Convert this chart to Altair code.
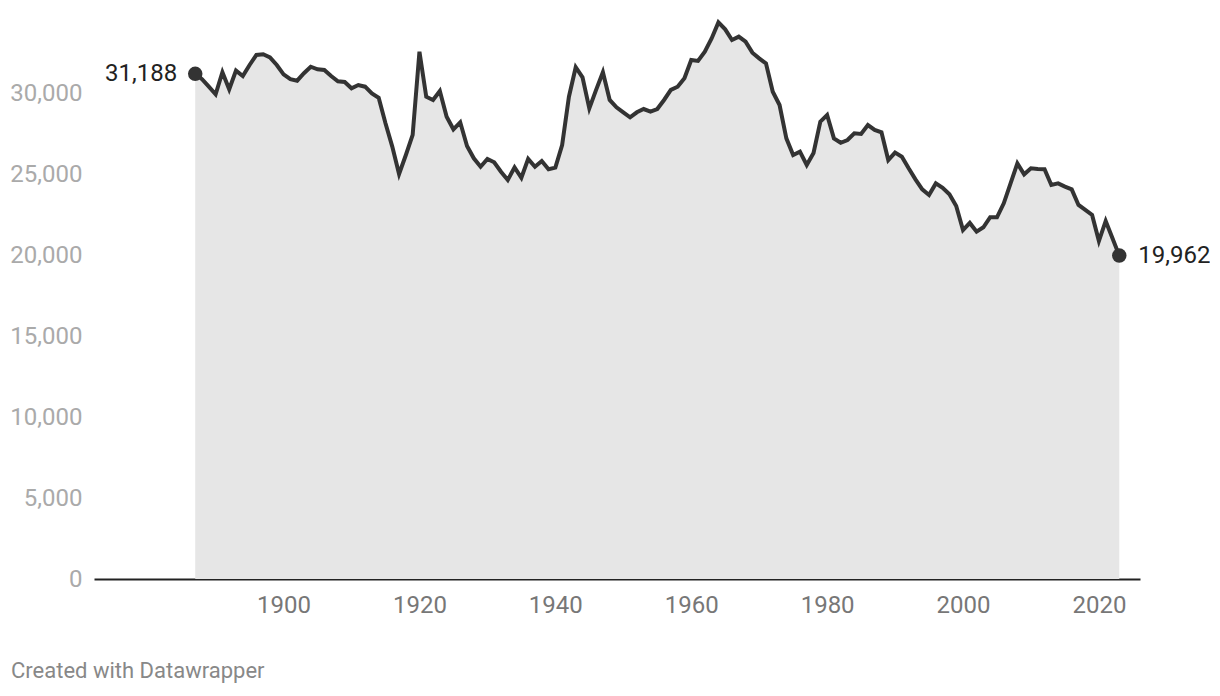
import altair as alt
import pandas as pd

years = list(range(1887, 2024))
values = [
    31188, 30850, 30390, 29920, 31280, 30230, 31380, 31050, 31730, 32350,
    32390, 32200, 31730, 31150, 30850, 30760, 31220, 31620, 31460, 31420,
    31050, 30720, 30680, 30290, 30490, 30390, 29980, 29710, 28130, 26690,
    25000, 26170, 27410, 32550, 29770, 29570, 30120, 28540, 27760, 28190,
    26730, 25970, 25450, 25930, 25720, 25140, 24630, 25410, 24770, 25930,
    25450, 25800, 25290, 25390, 26790, 29770, 31590, 30970, 29050, 30190,
    31280, 29570, 29120, 28810, 28500, 28810, 29010, 28850, 29010, 29570,
    30190, 30390, 30910, 32040, 31980, 32550, 33370, 34360, 33930, 33270,
    33480, 33170, 32490, 32140, 31830, 30080, 29260, 27200, 26170, 26380,
    25560, 26300, 28230, 28640, 27200, 26930, 27100, 27510, 27470, 28020,
    27720, 27570, 25860, 26320, 26070, 25350, 24670, 24050, 23700, 24420,
    24150, 23750, 23020, 21540, 21980, 21440, 21710, 22330, 22330, 23190,
    24420, 25660, 24980, 25350, 25310, 25290, 24320, 24420, 24220, 24050,
    23090, 22780, 22470, 20860, 22100, 21030, 19962,
]
x_ticks = [1900, 1920, 1940, 1960, 1980, 2000, 2020]
y_ticks = [0, 5000, 10000, 15000, 20000, 25000, 30000]

df = pd.DataFrame({"year": years, "value": values})
ends = pd.DataFrame({
    "year": [years[0], years[-1]],
    "value": [values[0], values[-1]],
    "side": ["first", "last"],
})

FONT = "Roboto"

x_scale = alt.Scale(domain=[1872.1, 2026.05], nice=False, zero=False)
y_scale = alt.Scale(domain=[0, 35000], nice=False)

x_enc = alt.X(
    "year:Q", scale=x_scale,
    axis=alt.Axis(
        values=x_ticks, format="d", title=None, ticks=False, grid=False,
        domain=True, domainColor="#222222", domainWidth=2,
        labelColor="#777777", labelFontSize=24, labelFont=FONT,
        labelPadding=14,
    ),
)
y_enc = alt.Y(
    "value:Q", scale=y_scale,
    axis=alt.Axis(
        values=y_ticks, format=",d", title=None, ticks=False, grid=False,
        domain=False, labelColor="#aaaaaa", labelFontSize=24,
        labelFont=FONT, labelPadding=12,
    ),
)

area = alt.Chart(df).mark_area(color="#e6e6e6", opacity=1).encode(x=x_enc, y=y_enc)
line = alt.Chart(df).mark_line(color="#333333", strokeWidth=4, strokeJoin="miter").encode(
    x="year:Q", y="value:Q"
)
dots = alt.Chart(ends).mark_point(filled=True, size=210, color="#333333", opacity=1).encode(
    x="year:Q", y="value:Q"
)
lab_first = alt.Chart(ends).transform_filter(alt.datum.side == "first").mark_text(
    align="right", baseline="middle", dx=-18, fontSize=24, font=FONT, color="#222222"
).encode(x="year:Q", y="value:Q", text=alt.Text("value:Q", format=",d"))
lab_last = alt.Chart(ends).transform_filter(alt.datum.side == "last").mark_text(
    align="left", baseline="middle", dx=19, fontSize=24, font=FONT, color="#222222"
).encode(x="year:Q", y="value:Q", text=alt.Text("value:Q", format=",d"))

chart = alt.layer(area, line, dots, lab_first, lab_last).properties(
    width=1046,
    height=567,
    padding={"left": 86, "top": 4, "right": 70, "bottom": 112},
    autosize=alt.AutoSizeParams(type="none"),
    title=alt.TitleParams(
        "Created with Datawrapper", orient="bottom", anchor="start",
        frame="group", dx=-83, offset=44, fontSize=22, font=FONT,
        fontWeight="normal", color="#888888",
    ),
).configure_view(stroke=None)

chart.save("out.html", embed_options={"renderer": "svg", "actions": False})
